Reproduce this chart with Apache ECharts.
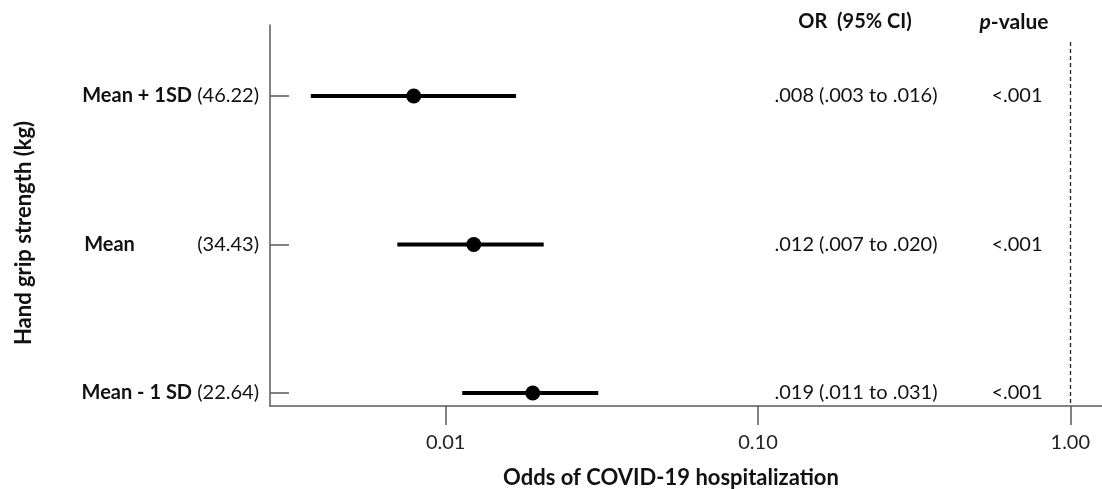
<!DOCTYPE html>
<html>
<head>
<meta charset="utf-8">
<script src="https://cdn.jsdelivr.net/npm/echarts@6/dist/echarts.min.js"></script>
<style>html,body{margin:0;padding:0;background:#fff}#c{width:1102px;height:489px}</style>
</head>
<body>
<div id="c"></div>
<script>
// ---- data ----
const rowPos = [3, 2, 1];
const rowNames = ['Mean + 1SD', 'Mean', 'Mean - 1 SD'];
const rowMeans = ['(46.22)', '(34.43)', '(22.64)'];
const orValues = [0.0079, 0.0123, 0.0190];
const ciLower = [0.0037, 0.0070, 0.0113];
const ciUpper = [0.0168, 0.0206, 0.0308];
const orText = ['.008 (.003 to .016)', '.012 (.007 to .020)', '.019 (.011 to .031)'];
const pText = ['<.001', '<.001', '<.001'];
const xTicks = [0.01, 0.1, 1];
const refValue = 1;

const FONT = 'Lato';
const AX = '#5a5a5a';
const FS = 20;
const chart = echarts.init(document.getElementById('c'), null, {renderer: 'canvas'});

const option = {
  animation: false,
  textStyle: {fontFamily: FONT},
  grid: {left: 270, right: 0, top: 25, bottom: 83},
  xAxis: {
    type: 'log', logBase: 10,
    min: Math.pow(10, -2.5626), max: Math.pow(10, 0.1015),
    axisLine: {lineStyle: {color: AX, width: 1.5}},
    axisTick: {length: 19, lineStyle: {color: AX, width: 1.5}, customValues: xTicks},
    axisLabel: {customValues: xTicks, margin: 27, color: '#222', fontSize: FS, fontFamily: FONT,
      formatter: v => Number(v).toFixed(2)},
    splitLine: {show: false}
  },
  yAxis: {
    type: 'value', min: 0.912, max: 3.478,
    axisLine: {show: true, lineStyle: {color: AX, width: 1.5}},
    axisTick: {show: true, inside: true, length: 19, lineStyle: {color: AX, width: 1.5}, customValues: rowPos},
    axisLabel: {customValues: rowPos, margin: 11, fontSize: FS, color: '#111', fontFamily: FONT,
      formatter: v => {
        const i = rowPos.indexOf(Math.round(v));
        if (i < 0) return '';
        if (rowNames[i] === 'Mean') return '{bw|' + rowNames[i] + '}{n|' + rowMeans[i] + '}';
        return '{b|' + rowNames[i] + '} {n|' + rowMeans[i] + '}';
      },
      rich: {
        b: {fontWeight: 'bold', fontSize: FS, fontFamily: FONT, color: '#111'},
        bw: {fontWeight: 'bold', fontSize: FS, fontFamily: FONT, color: '#111', width: 113, align: 'left'},
        n: {fontSize: FS, fontFamily: FONT, color: '#111'}
      }
    },
    splitLine: {show: false}
  },
  graphic: [
    {type: 'text', style: {text: 'Odds of COVID-19 hospitalization', x: 671, y: 478,
      align: 'center', verticalAlign: 'middle', font: 'bold 22px ' + FONT, fill: '#111'}},
    {type: 'text', rotation: Math.PI / 2, x: 24, y: 233, style: {text: 'Hand grip strength (kg)', x: 0, y: 0,
      align: 'center', verticalAlign: 'middle', font: 'bold 22px ' + FONT, fill: '#111'}},
    {type: 'text', style: {text: 'OR  (95% CI)', x: 855, y: 22, align: 'center', verticalAlign: 'middle',
      font: 'bold 20px ' + FONT, fill: '#111'}},
    {type: 'text', style: {text: '{i|p}{b|-value}', x: 1014, y: 22, align: 'center', verticalAlign: 'middle',
      rich: {i: {font: 'italic bold 21px ' + FONT, fill: '#111'}, b: {font: 'bold 21px ' + FONT, fill: '#111'}}}}
  ],
  series: [
    {
      type: 'custom',
      data: rowPos.map((y, i) => [ciLower[i], ciUpper[i], y]),
      encode: {x: [0, 1], y: 2},
      renderItem: (params, api) => {
        const a = api.coord([api.value(0), api.value(2)]);
        const b = api.coord([api.value(1), api.value(2)]);
        return {type: 'line', shape: {x1: a[0], y1: a[1], x2: b[0], y2: b[1]},
          style: {stroke: '#000', lineWidth: 4}};
      },
      z: 2
    },
    {
      type: 'scatter',
      data: rowPos.map((y, i) => [orValues[i], y]),
      symbol: 'circle', symbolSize: 15,
      itemStyle: {color: '#000', opacity: 1},
      z: 3,
      markLine: {
        silent: true, symbol: 'none', label: {show: false},
        lineStyle: {type: [4, 3], color: '#222', width: 1.3, opacity: 1},
        data: [[{coord: [refValue, 3.364]}, {coord: [refValue, 0.912]}]]
      }
    },
    {
      type: 'custom',
      data: rowPos.map((y, i) => [refValue, y, i]),
      encode: {x: 0, y: 1},
      renderItem: (params, api) => {
        const p = api.coord([api.value(0), api.value(1)]);
        const i = api.value(2);
        return {type: 'group', children: [
          {type: 'text', style: {text: orText[i], x: 856, y: p[1], align: 'center', verticalAlign: 'middle',
            font: FS + 'px ' + FONT, fill: '#111'}},
          {type: 'text', style: {text: pText[i], x: 1017, y: p[1], align: 'center', verticalAlign: 'middle',
            font: FS + 'px ' + FONT, fill: '#111'}}
        ]};
      }
    }
  ]
};
chart.setOption(option);
</script>
</body>
</html>
